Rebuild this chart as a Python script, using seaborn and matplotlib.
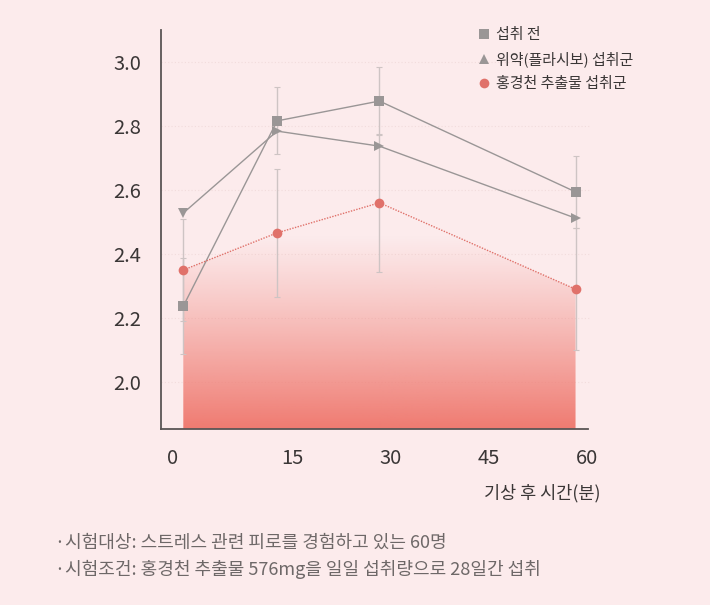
import numpy as np
import pandas as pd
import matplotlib
matplotlib.use("Agg")
import matplotlib.pyplot as plt
from matplotlib.lines import Line2D
import seaborn as sns

# ---- data ----
minutes = [-1.6, 12.7, 28.3, 58.2]
before = [2.237, 2.816, 2.878, 2.594]
before_err = [0.15, 0.105, 0.105, 0.113]
placebo = [2.528, 2.784, 2.737, 2.512]
extract = [2.350, 2.466, 2.560, 2.290]
extract_err = [0.16, 0.20, 0.215, 0.19]

series_names = ["섭취 전", "위약(플라시보) 섭취군", "홍경천 추출물 섭취군"]
xtick_vals = [-3.2, 15, 30, 45, 60]
xtick_labels = ["0", "15", "30", "45", "60"]
ytick_vals = [2.0, 2.2, 2.4, 2.6, 2.8, 3.0]
xlabel = "기상 후 시간(분)"
notes = ["·시험대상: 스트레스 관련 피로를 경험하고 있는 60명",
         "·시험조건: 홍경천 추출물 576mg을 일일 섭취량으로 28일간 섭취"]

BG = "#fcebec"
GRAY = "#9a9696"
RED = "#e0716a"
AXC = "#5a5555"

sns.set_theme(style="white")
plt.rcParams["font.family"] = ["Noto Sans CJK KR", "DejaVu Sans"]
plt.rcParams["axes.unicode_minus"] = False

fig = plt.figure(figsize=(7.10, 6.05), dpi=100, facecolor=BG)
ax = fig.add_axes([161/710, 1-429/605, (588-161)/710, (429-30)/605])
ax.set_facecolor(BG)

ymin, ymax = 1.853, 3.1
ax.set_xlim(-5, 60.1)
ax.set_ylim(ymin, ymax)

df = pd.DataFrame({"x": minutes, "before": before, "placebo": placebo, "extract": extract})

# gradient fill under the extract line
poly = ax.fill_between(df["x"], df["extract"], ymin, color="none", lw=0)
n = 256
grad = np.zeros((n, 1, 4))
rgb = matplotlib.colors.to_rgb("#ef776d")
grad[:, 0, 0] = rgb[0]; grad[:, 0, 1] = rgb[1]; grad[:, 0, 2] = rgb[2]
top_fade = 2.46
yy = np.linspace(max(extract), ymin, n)
a = np.clip((top_fade - yy) / (top_fade - ymin), 0, 1) ** 1.15
grad[:, 0, 3] = a * 0.97
im = ax.imshow(grad, extent=[min(minutes), max(minutes), ymin, max(extract)],
               aspect="auto", origin="upper", zorder=1, interpolation="bilinear")
im.set_clip_path(poly.get_paths()[0], transform=ax.transData)

# grid
for yv in ytick_vals:
    ax.plot([-5, 60.5], [yv, yv], color="#f2dcdc", lw=0.8, ls=(0, (1, 2)), zorder=0.5, clip_on=False)

# error bars
ax.errorbar(minutes, before, yerr=before_err, fmt="none", ecolor="#cec4c4", elinewidth=1, capsize=2.5, capthick=0.8, zorder=2)
ax.errorbar(minutes, extract, yerr=extract_err, fmt="none", ecolor="#cec4c4", elinewidth=1, capsize=2.5, capthick=0.8, zorder=2)

# lines
sns.lineplot(data=df, x="x", y="before", ax=ax, color=GRAY, lw=1.0, marker="s", markersize=7,
             markeredgewidth=0, markerfacecolor=GRAY, zorder=4)
sns.lineplot(data=df, x="x", y="placebo", ax=ax, color=GRAY, lw=1.0, zorder=4)
tri_markers = ["v", ">", ">", ">"]
for xv, yv, mk in zip(minutes, placebo, tri_markers):
    ax.plot([xv], [yv], marker=mk, color=GRAY, markersize=7, markeredgewidth=0, zorder=5)
sns.lineplot(data=df, x="x", y="extract", ax=ax, color=RED, lw=1.0, linestyle=(0, (1, 1)),
             marker="o", markersize=7, markeredgewidth=0, markerfacecolor=RED, zorder=4)

# axes styling
for s in ["top", "right"]:
    ax.spines[s].set_visible(False)
for s in ["left", "bottom"]:
    ax.spines[s].set_color(AXC)
    ax.spines[s].set_linewidth(1.3)
ax.set_xticks(xtick_vals)
ax.set_xticklabels(xtick_labels)
ax.set_yticks(ytick_vals)
ax.set_yticklabels([f"{v:.1f}" for v in ytick_vals])
ax.tick_params(axis="both", direction="out", length=6, width=1.2, color=AXC,
               labelsize=14.5, labelcolor="#3a3636", pad=8)
ax.xaxis.get_major_ticks()[0].tick1line.set_visible(False)
ax.set_xlabel("")
ax.set_ylabel("")

# legend
handles = [Line2D([], [], ls="none", marker="s", color=GRAY, markersize=7, markeredgewidth=0),
           Line2D([], [], ls="none", marker="^", color=GRAY, markersize=7, markeredgewidth=0),
           Line2D([], [], ls="none", marker="o", color=RED, markersize=7, markeredgewidth=0)]
fig.legend(handles, series_names, loc="upper left", bbox_to_anchor=(464/710, 1-15/605),
           frameon=False, fontsize=10.8, handlelength=0.8, handletextpad=0.4, labelspacing=0.62,
           labelcolor="#3a3636")

fig.text(601/710, 1-493/605, xlabel, ha="right", va="center", fontsize=12.6, color="#3a3636")
fig.text(55/710, 1-543/605, notes[0], ha="left", va="center", fontsize=13.0, color="#6e6868")
fig.text(55/710, 1-569/605, notes[1], ha="left", va="center", fontsize=13.0, color="#6e6868")

fig.savefig("out.png", dpi=100, facecolor=BG)
